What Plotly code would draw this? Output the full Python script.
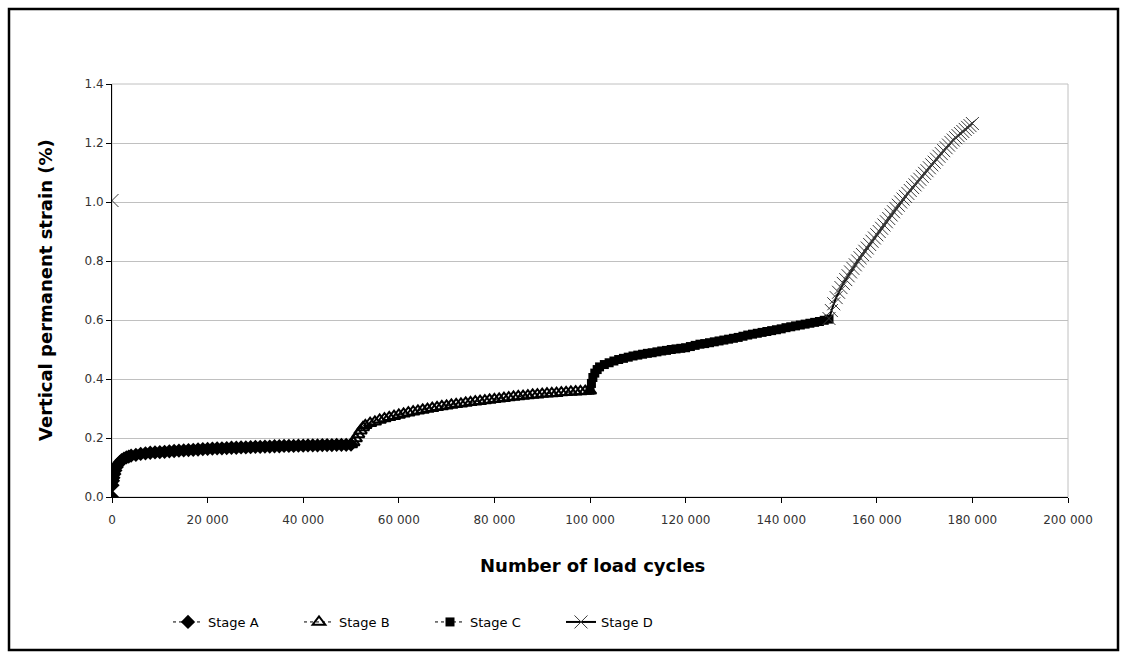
import plotly.graph_objects as go

# Load cycles and vertical permanent strain (%) for each loading stage
stage_a_cycles = [0, 100, 200, 300, 500, 700, 1000, 1300, 1600, 2000, 2500, 3000, 3500, 4000,
                  5000, 6000, 7000, 8000, 9000, 10000, 11000, 12000, 13000, 14000, 15000,
                  16000, 17000, 18000, 19000, 20000, 21000, 22000, 23000, 24000, 25000,
                  26000, 27000, 28000, 29000, 30000, 31000, 32000, 33000, 34000, 35000,
                  36000, 37000, 38000, 39000, 40000, 41000, 42000, 43000, 44000, 45000,
                  46000, 47000, 48000, 49000, 50000]
stage_a_strain = [0.000, 0.040, 0.055, 0.065, 0.078, 0.090, 0.102, 0.111, 0.118, 0.125, 0.130,
                  0.134, 0.137, 0.140, 0.143, 0.146, 0.148, 0.150, 0.151, 0.152, 0.153, 0.155,
                  0.156, 0.157, 0.158, 0.159, 0.160, 0.161, 0.162, 0.163, 0.164, 0.165, 0.165,
                  0.166, 0.167, 0.167, 0.168, 0.168, 0.169, 0.170, 0.170, 0.171, 0.171, 0.172,
                  0.172, 0.173, 0.173, 0.173, 0.174, 0.174, 0.175, 0.175, 0.175, 0.176, 0.176,
                  0.176, 0.177, 0.177, 0.177, 0.178]

stage_b_cycles = [50000, 50500, 51000, 51500, 52000, 52500, 53000, 54000, 55000, 56000, 57000,
                  58000, 59000, 60000, 61000, 62000, 63000, 64000, 65000, 66000, 67000, 68000,
                  69000, 70000, 71000, 72000, 73000, 74000, 75000, 76000, 77000, 78000, 79000,
                  80000, 81000, 82000, 83000, 84000, 85000, 86000, 87000, 88000, 89000, 90000,
                  91000, 92000, 93000, 94000, 95000, 96000, 97000, 98000, 99000, 100000]
stage_b_strain = [0.178, 0.185, 0.198, 0.212, 0.225, 0.236, 0.243, 0.250, 0.255, 0.261, 0.266,
                  0.270, 0.274, 0.278, 0.282, 0.286, 0.289, 0.292, 0.295, 0.298, 0.301, 0.304,
                  0.307, 0.309, 0.312, 0.314, 0.316, 0.319, 0.321, 0.323, 0.325, 0.327, 0.329,
                  0.331, 0.333, 0.335, 0.337, 0.339, 0.341, 0.342, 0.344, 0.346, 0.347, 0.349,
                  0.350, 0.351, 0.352, 0.354, 0.355, 0.356, 0.357, 0.358, 0.359, 0.360]

stage_c_cycles = [100000, 100300, 100600, 101000, 101500, 102000, 103000, 104000, 105000, 106000,
                  107000, 108000, 109000, 110000, 111000, 112000, 113000, 114000, 115000, 116000,
                  117000, 118000, 119000, 120000, 121000, 122000, 123000, 124000, 125000, 126000,
                  127000, 128000, 129000, 130000, 131000, 132000, 133000, 134000, 135000, 136000,
                  137000, 138000, 139000, 140000, 141000, 142000, 143000, 144000, 145000, 146000,
                  147000, 148000, 149000, 150000]
stage_c_strain = [0.362, 0.385, 0.405, 0.420, 0.432, 0.441, 0.449, 0.455, 0.461, 0.466,
                  0.470, 0.474, 0.478, 0.481, 0.484, 0.487, 0.489, 0.492, 0.495, 0.497,
                  0.500, 0.502, 0.504, 0.506, 0.510, 0.514, 0.518, 0.520, 0.523, 0.526,
                  0.529, 0.532, 0.535, 0.538, 0.541, 0.545, 0.549, 0.552, 0.555, 0.558,
                  0.561, 0.564, 0.567, 0.570, 0.574, 0.577, 0.580, 0.583, 0.586, 0.589,
                  0.592, 0.595, 0.599, 0.603]

# Stage D: an isolated reading at cycle 0, then the stage itself (None breaks the line)
stage_d_cycles = [0, None,
                  150000, 150500, 151000, 151500, 152000, 152500, 153000, 153500, 154000,
                  154500, 155000, 155500, 156000, 156500, 157000, 157500, 158000, 158500,
                  159000, 159500, 160000, 160500, 161000, 161500, 162000, 162500, 163000,
                  163500, 164000, 164500, 165000, 165500, 166000, 166500, 167000, 167500,
                  168000, 168500, 169000, 169500, 170000, 170500, 171000, 171500, 172000,
                  172500, 173000, 173500, 174000, 174500, 175000, 175500, 176000, 176500,
                  177000, 177500, 178000, 178500, 179000, 179500, 180000]
stage_d_strain = [1.005, None,
                  0.605, 0.632, 0.655, 0.676, 0.694, 0.710, 0.724, 0.737, 0.750,
                  0.763, 0.775, 0.787, 0.800, 0.811, 0.822, 0.833, 0.844, 0.856,
                  0.867, 0.878, 0.889, 0.900, 0.911, 0.922, 0.933, 0.944, 0.956,
                  0.967, 0.978, 0.989, 1.000, 1.010, 1.019, 1.029, 1.039, 1.049,
                  1.058, 1.068, 1.077, 1.087, 1.097, 1.106, 1.116, 1.126, 1.135,
                  1.145, 1.155, 1.164, 1.174, 1.184, 1.193, 1.202, 1.210, 1.218,
                  1.225, 1.232, 1.239, 1.246, 1.253, 1.259, 1.266]

x_tick_values = [0, 20000, 40000, 60000, 80000, 100000, 120000, 140000, 160000, 180000, 200000]
x_tick_labels = ["0", "20 000", "40 000", "60 000", "80 000", "100 000", "120 000",
                 "140 000", "160 000", "180 000", "200 000"]
y_tick_values = [0.0, 0.2, 0.4, 0.6, 0.8, 1.0, 1.2, 1.4]
y_tick_labels = ["0.0", "0.2", "0.4", "0.6", "0.8", "1.0", "1.2", "1.4"]

FONT = "DejaVu Sans"

fig = go.Figure()

fig.add_trace(go.Scatter(
    x=stage_a_cycles, y=stage_a_strain, name="Stage A", mode="lines+markers",
    line=dict(color="black", width=1, dash="dot"),
    marker=dict(symbol="diamond", size=11, color="black"),
))
fig.add_trace(go.Scatter(
    x=stage_b_cycles, y=stage_b_strain, name="Stage B", mode="lines+markers",
    line=dict(color="black", width=1, dash="dot"),
    marker=dict(symbol="triangle-up-open", size=11, color="black", line=dict(width=2)),
))
fig.add_trace(go.Scatter(
    x=stage_c_cycles, y=stage_c_strain, name="Stage C", mode="lines+markers",
    line=dict(color="black", width=1, dash="dot"),
    marker=dict(symbol="square", size=9, color="black"),
))
fig.add_trace(go.Scatter(
    x=stage_d_cycles, y=stage_d_strain, name="Stage D", mode="lines+markers",
    line=dict(color="black", width=2),
    marker=dict(symbol="x-thin-open", size=13, color="#3a3a3a",
                line=dict(width=1, color="#3a3a3a")),
))

# Plot-area geometry in pixels (used for the outer frame and text placement)
W, H = 1126, 653
L, R, T, B = 112, 58, 84, 156
pw, ph = W - L - R, H - T - B


def px_x(p):
    return (p - L) / pw


def px_y(p):
    return (H - B - p) / ph


shapes = [
    # light frame on the top and right of the plotting area
    dict(type="rect", xref="paper", yref="paper", x0=0, x1=1, y0=0, y1=1,
         line=dict(color="#c0c0c0", width=1), layer="below"),
    # outer frame around the whole chart
    dict(type="rect", xref="paper", yref="paper",
         x0=px_x(9), x1=px_x(1118), y0=px_y(650), y1=px_y(9),
         line=dict(color="black", width=2.5)),
]

annotations = [
    dict(text="<b>Vertical permanent strain (%)</b>", xref="paper", yref="paper",
         x=px_x(45), y=px_y(290), textangle=-90, showarrow=False,
         font=dict(family=FONT, size=18, color="black"), xanchor="center", yanchor="middle"),
    dict(text="<b>Number of load cycles</b>", xref="paper", yref="paper",
         x=px_x(592), y=px_y(565), showarrow=False,
         font=dict(family=FONT, size=18, color="black"), xanchor="center", yanchor="middle"),
]

fig.update_layout(
    width=W, height=H,
    margin=dict(l=L, r=R, t=T, b=B, autoexpand=False),
    paper_bgcolor="white", plot_bgcolor="white",
    font=dict(family=FONT, size=12, color="#333333"),
    shapes=shapes, annotations=annotations,
    showlegend=True,
    legend=dict(orientation="h", x=px_x(168), xanchor="left", y=px_y(622), yanchor="middle",
                entrywidth=86, entrywidthmode="pixels",
                font=dict(family=FONT, size=13, color="black"),
                bgcolor="rgba(0,0,0,0)"),
)

fig.update_xaxes(
    range=[0, 200000], tickvals=x_tick_values, ticktext=x_tick_labels,
    showgrid=False, zeroline=False, showline=True, linecolor="black", linewidth=1,
    ticks="outside", ticklen=5, tickcolor="black", ticklabelstandoff=7,
    tickfont=dict(family=FONT, size=12, color="#333333"),
)
fig.update_yaxes(
    range=[0, 1.4], tickvals=y_tick_values, ticktext=y_tick_labels,
    showgrid=True, gridcolor="#c0c0c0", gridwidth=1, zeroline=False,
    showline=True, linecolor="black", linewidth=1,
    ticks="outside", ticklen=5, tickcolor="black",
    tickfont=dict(family=FONT, size=12, color="#333333"),
)

fig.write_html("out.html")
